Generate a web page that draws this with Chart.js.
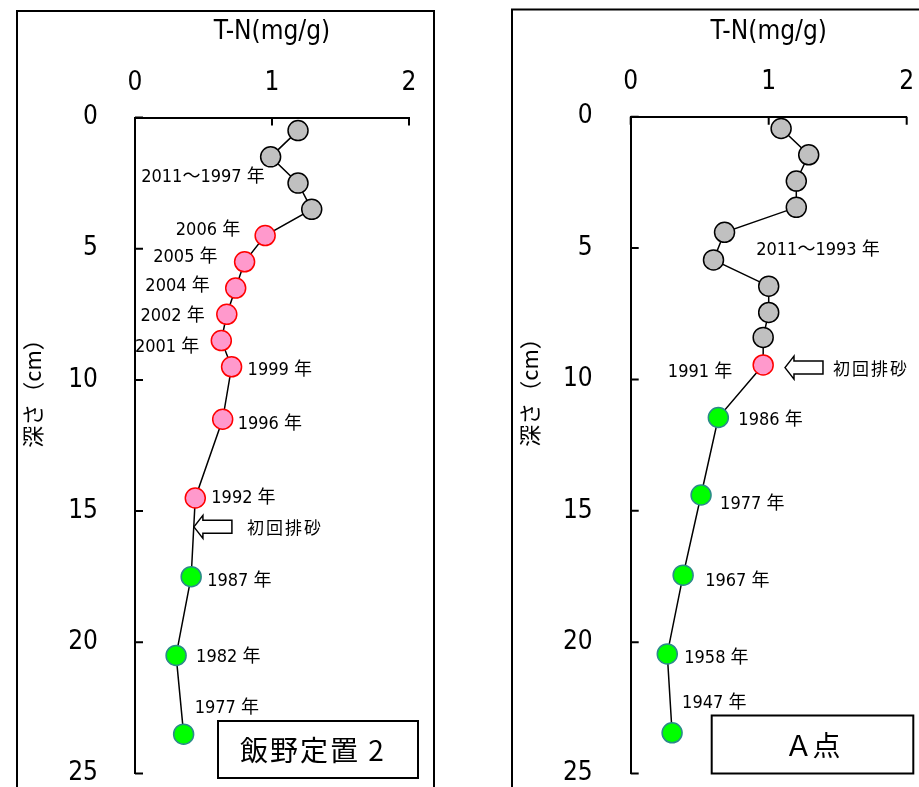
<!DOCTYPE html>
<html>
<head>
<meta charset="utf-8">
<script src="https://cdn.jsdelivr.net/npm/chart.js@4.4.1/dist/chart.umd.min.js"></script>
<style>
  html, body { margin: 0; padding: 0; background: #fff; overflow: hidden; }
  #wrap { position: relative; width: 919px; height: 787px; }
  canvas { position: absolute; top: 0; }
  #iino { left: 0; }
  #pointA { left: 460px; }
</style>
</head>
<body>
<div id="wrap">
  <canvas id="iino" width="460" height="787"></canvas>
  <canvas id="pointA" width="459" height="787"></canvas>
</div>
<script>
// ---- core data: T-N content (mg/g) against sediment depth (cm) ----
const tnTicks = [0, 1, 2];
const depthTicks = [0, 5, 10, 15, 20, 25];

// 飯野定置 2
const iinoDepth  = [0.5, 1.5, 2.5, 3.5, 4.5, 5.5, 6.5, 7.5, 8.5, 9.5, 11.5, 14.5, 17.5, 20.5, 23.5];
const iinoTN     = [1.19, 0.99, 1.19, 1.29, 0.95, 0.80, 0.735, 0.67, 0.63, 0.705, 0.64, 0.44, 0.41, 0.30, 0.355];
const iinoPeriod = ['gray', 'gray', 'gray', 'gray', 'pink', 'pink', 'pink', 'pink', 'pink', 'pink', 'pink', 'pink', 'green', 'green', 'green'];
const iinoYear   = ['', '', '', '', '2006 年', '2005 年', '2004 年', '2002 年', '2001 年', '1999 年', '1996 年', '1992 年', '1987 年', '1982 年', '1977 年'];

// A 点
const aDepth  = [0.45, 1.45, 2.45, 3.45, 4.4, 5.45, 6.45, 7.45, 8.4, 9.45, 11.45, 14.4, 17.45, 20.45, 23.45];
const aTN     = [1.09, 1.29, 1.20, 1.20, 0.68, 0.60, 1.00, 1.00, 0.96, 0.96, 0.635, 0.51, 0.38, 0.265, 0.30];
const aPeriod = ['gray', 'gray', 'gray', 'gray', 'gray', 'gray', 'gray', 'gray', 'gray', 'pink', 'green', 'green', 'green', 'green', 'green'];
const aYear   = ['', '', '', '', '', '', '', '', '', '1991 年', '1986 年', '1977 年', '1967 年', '1958 年', '1947 年'];

// ---- styling ----
const FONT_NUM = '"Liberation Sans Narrow", "DejaVu Sans Condensed", "Noto Sans CJK JP", sans-serif';
const FONT_JP = '"Noto Sans CJK JP", sans-serif';
const MARK = {
  gray:  { fill: '#c0c0c0', edge: '#000000' },
  pink:  { fill: '#ff99cc', edge: '#ff0000' },
  green: { fill: '#00ff00', edge: '#2b8a8a' }
};

// year label placement next to its point: [dx, dy, align]
const iinoPlace = {
  4: [-25, -5, 'right'], 5: [-27, -4, 'right'], 6: [-26, -2, 'right'],
  7: [-22, 2, 'right'], 8: [-22, 7, 'right'], 9: [16, 4, 'left'],
  10: [15, 5, 'left'], 11: [16, 0, 'left'], 12: [16, 5, 'left'],
  13: [20, 2, 'left'], 14: [11, -26, 'left']
};
const aPlace = {
  9: [-31, 7, 'right'], 10: [20, 3, 'left'], 11: [19, 9, 'left'],
  12: [22, 6, 'left'], 13: [17, 4, 'left'], 14: [10, -29, 'left']
};

// panel decorations: frame, inward ticks, depth title, annotations, station box
const decor = {
  id: 'decor',
  afterDatasetsDraw(chart, args, o) {
    const ctx = chart.ctx;
    const xs = chart.scales.x, ys = chart.scales.y, area = chart.chartArea;
    ctx.save();

    ctx.strokeStyle = '#000';
    ctx.lineWidth = 2;
    ctx.strokeRect(o.frame[0], o.frame[1], o.frame[2], o.frame[3]);

    ctx.beginPath();
    tnTicks.forEach(v => {
      const px = xs.getPixelForValue(v);
      ctx.moveTo(px, area.top); ctx.lineTo(px, area.top + 8);
    });
    depthTicks.forEach(v => {
      const py = ys.getPixelForValue(v);
      ctx.moveTo(area.left, py); ctx.lineTo(area.left + 8, py);
    });
    ctx.stroke();

    // depth axis title
    ctx.save();
    ctx.translate(o.yTitle.x, o.yTitle.y);
    ctx.rotate(-Math.PI / 2);
    ctx.fillStyle = '#000';
    ctx.font = '22px ' + FONT_JP;
    ctx.textAlign = 'center';
    ctx.textBaseline = 'middle';
    ctx.fillText('深さ（cm）', 0, 0);
    ctx.restore();

    // year labels
    ctx.fillStyle = '#000';
    ctx.font = '18px ' + FONT_NUM;
    ctx.textBaseline = 'middle';
    const meta = chart.getDatasetMeta(0);
    Object.keys(o.place).forEach(k => {
      const i = +k, p = o.place[k], el = meta.data[i];
      ctx.textAlign = p[2];
      ctx.fillText(o.years[i], el.x + p[0], el.y + p[1]);
    });

    // label for the upper (grey) layers
    ctx.textAlign = 'center';
    ctx.fillText(o.group.text, xs.getPixelForValue(o.group.x), ys.getPixelForValue(o.group.y));

    // hollow arrow marking the first sediment flushing
    const tx = xs.getPixelForValue(o.arrow.x), ty = ys.getPixelForValue(o.arrow.y);
    ctx.beginPath();
    ctx.moveTo(tx, ty);
    ctx.lineTo(tx + 9, ty - 11.5);
    ctx.lineTo(tx + 9, ty - 6.5);
    ctx.lineTo(tx + 38, ty - 6.5);
    ctx.lineTo(tx + 38, ty + 6.5);
    ctx.lineTo(tx + 9, ty + 6.5);
    ctx.lineTo(tx + 9, ty + 11.5);
    ctx.closePath();
    ctx.fillStyle = '#fff';
    ctx.fill();
    ctx.lineWidth = 1.5;
    ctx.strokeStyle = '#000';
    ctx.stroke();
    ctx.fillStyle = '#000';
    ctx.font = '17px ' + FONT_JP;
    ctx.textAlign = 'left';
    ctx.letterSpacing = '2px';
    ctx.fillText('初回排砂', tx + o.arrow.gap, ty + 1);
    ctx.letterSpacing = '0px';

    // station name box
    const b = o.box;
    const bx = area.right + b.dr - b.w, by = area.bottom + b.db - b.h;
    ctx.fillStyle = '#fff';
    ctx.fillRect(bx, by, b.w, b.h);
    ctx.lineWidth = 2;
    ctx.strokeRect(bx, by, b.w, b.h);
    ctx.fillStyle = '#000';
    ctx.font = '28px ' + FONT_JP;
    ctx.textAlign = 'center';
    ctx.textBaseline = 'middle';
    ctx.letterSpacing = b.ls;
    ctx.fillText(b.text, bx + b.w / 2 + b.tx, by + b.h / 2 + 1);
    ctx.letterSpacing = '0px';

    ctx.restore();
  }
};

function makeChart(id, depth, tn, period, o) {
  return new Chart(document.getElementById(id), {
    type: 'scatter',
    data: {
      datasets: [{
        data: depth.map((d, i) => ({ x: tn[i], y: d })),
        showLine: true,
        borderColor: '#000',
        borderWidth: 1.5,
        pointRadius: 10,
        pointHoverRadius: 10,
        pointBackgroundColor: period.map(p => MARK[p].fill),
        pointBorderColor: period.map(p => MARK[p].edge),
        pointBorderWidth: 1.5
      }]
    },
    options: {
      responsive: false,
      animation: false,
      events: [],
      layout: { padding: o.padding },
      plugins: { legend: { display: false }, tooltip: { enabled: false }, decor: o.decor },
      scales: {
        x: {
          type: 'linear', position: 'top', min: 0, max: 2,
          afterBuildTicks: s => { s.ticks = tnTicks.map(v => ({ value: v })); },
          // label offset comes from the (hidden) tick length
          grid: { display: false, drawTicks: true, tickLength: 19 },
          border: { display: true, color: '#000', width: 2 },
          ticks: { color: '#000', font: { family: FONT_NUM, size: 26 }, padding: 0, maxRotation: 0 },
          title: { display: true, text: 'T-N(mg/g)', color: '#000',
                   font: { family: FONT_NUM, size: 26 }, padding: { top: 17, bottom: 0 } },
          afterFit: s => { s.height = o.axisTop; }
        },
        y: {
          type: 'linear', reverse: true, min: 0, max: 25,
          afterBuildTicks: s => { s.ticks = depthTicks.map(v => ({ value: v })); },
          grid: { display: false, drawTicks: true, tickLength: o.labelGap },
          border: { display: true, color: '#000', width: 2 },
          ticks: { color: '#000', font: { family: FONT_NUM, size: 26, lineHeight: 1 }, padding: 0 },
          afterFit: s => { s.width = o.axisLeft; }
        }
      }
    },
    plugins: [decor]
  });
}

makeChart('iino', iinoDepth, iinoTN, iinoPeriod, {
  axisLeft: 135, axisTop: 117.5, labelGap: 37,
  padding: { left: 0, top: 0, right: 51, bottom: 13.5 },
  decor: {
    frame: [17, 11, 417, 900],
    yTitle: { x: 33, y: 388 },
    years: iinoYear, place: iinoPlace,
    group: { text: '2011～1997 年', x: 0.496, y: 2.27 },
    arrow: { x: 0.43, y: 15.6, gap: 53 },
    box: { text: '飯野定置 2', w: 200, h: 57, dr: 9, db: 4.5, tx: -5, ls: '2px' }
  }
});

makeChart('pointA', aDepth, aTN, aPeriod, {
  axisLeft: 170.7, axisTop: 116.7, labelGap: 38,
  padding: { left: 0, top: 0, right: 12.3, bottom: 13.5 },
  decor: {
    frame: [52, 9.5, 500, 900],
    yTitle: { x: 70, y: 387 },
    years: aYear, place: aPlace,
    group: { text: '2011～1993 年', x: 1.357, y: 5.07 },
    arrow: { x: 1.118, y: 9.55, gap: 48 },
    box: { text: 'Ａ点', w: 201.6, h: 58, dr: 6.6, db: 0, tx: 0, ls: '0px' }
  }
});
</script>
</body>
</html>
